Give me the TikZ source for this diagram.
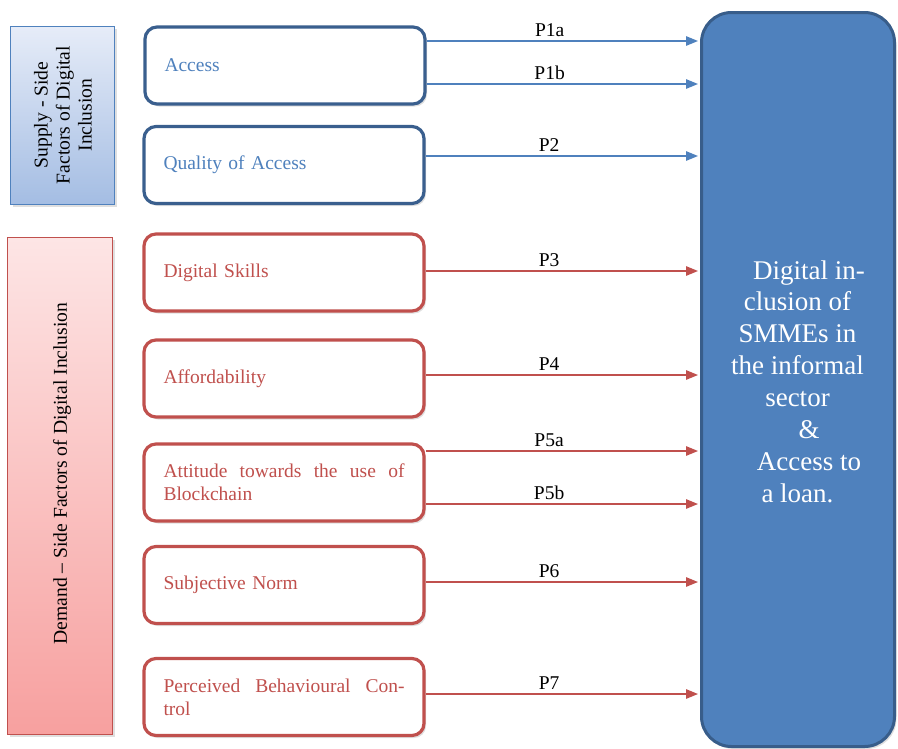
\documentclass[tikz,border=0pt]{standalone}
\usepackage{fontspec}
\setmainfont{Liberation Serif}
\usetikzlibrary{shadows,arrows.meta}
\definecolor{bluetext}{HTML}{4F81BD}
\definecolor{blueborder}{HTML}{3A5F8E}
\definecolor{redc}{HTML}{C0504D}
\definecolor{bigfill}{HTML}{4F81BD}
\definecolor{bigborder}{HTML}{385D8A}
\definecolor{suptop}{HTML}{E6ECF8}
\definecolor{supbot}{HTML}{A4BDE3}
\definecolor{demtop}{HTML}{FDE5E5}
\definecolor{dembot}{HTML}{F7A09F}
\begin{document}
\begin{tikzpicture}[x=1pt,y=-1pt,
  factor/.style={rectangle, rounded corners=12pt, line width=3.2pt, fill=white,
    minimum width=280pt, minimum height=77pt, text width=241pt, inner xsep=19.5pt,
    align=left, font=\fontsize{19.5}{23}\selectfont,
    drop shadow={opacity=0.25, shadow xshift=2pt, shadow yshift=-2.5pt}},
  supplyf/.style={factor, draw=blueborder, text=bluetext},
  demandf/.style={factor, draw=redc, text=redc},
  sidebox/.style={rectangle, line width=1.2pt, inner sep=0pt,
    drop shadow={opacity=0.25, shadow xshift=2.5pt, shadow yshift=-2.5pt}},
  sidetext/.style={rotate=90, align=center, inner sep=0pt, text=black,
    font=\fontsize{19.6}{22}\selectfont},
  barr/.style={draw=bluetext, line width=1.3pt, shorten >=2pt,
    -{Triangle[length=12pt,width=9.5pt]}},
  rarr/.style={draw=redc, line width=1.3pt, shorten >=2pt,
    -{Triangle[length=12pt,width=9.5pt]}},
  plabel/.style={above=4pt, pos=0.45, inner sep=0pt, text=black,
    font=\fontsize{19.5}{23}\selectfont}
]
\useasboundingbox (0,0) rectangle (898,748);

% side boxes
\node[sidebox, draw=bluetext, top color=suptop, bottom color=supbot,
  minimum width=103.5pt, minimum height=177.5pt] (supbox) at (62.5,115.5) {};
\node[sidetext] (suptext) at (63,115) {Supply - Side\\Factors of Digital\\Inclusion};
\node[sidebox, draw=redc, top color=demtop, bottom color=dembot,
  minimum width=104.5pt, minimum height=496.5pt] (dembox) at (60,486) {};
\node[sidetext] (demtext) at (62,473.5) {Demand – Side Factors of Digital Inclusion};

% outcome box
\node[rectangle, rounded corners=30pt, fill=bigfill, draw=bigborder, line width=3pt,
  minimum width=193pt, minimum height=734pt,
  drop shadow={opacity=0.25, shadow xshift=2pt, shadow yshift=-2.5pt}] (big) at (798,379.5) {};
\node[text=white, align=center, inner sep=0pt, font=\fontsize{27}{31.9}\selectfont]
  (bigtext) at (797.5,381.5)
  {\hspace*{23pt}Digital in-\\clusion of\\SMMEs in\\the informal\\sector\\\hspace*{23pt}\&\\\hspace*{23pt}Access to\\a loan.};

% factor boxes
\node[supplyf] (access) at (285,65.5) {Access};
\node[supplyf] (quality) at (284,165) {Quality of Access};
\node[demandf] (skills) at (284,272.5) {Digital Skills};
\node[demandf] (afford) at (284,378.5) {Affordability};
\node[demandf, align=justify] (attitude) at (284,482.5) {Attitude towards the use of\linebreak Blockchain};
\node[demandf] (subjective) at (284,585) {Subjective Norm};
\node[demandf, align=justify] (perceived) at (284,697) {Perceived Behavioural Con-\linebreak trol};

% connector start points
\coordinate (s1a) at ([yshift=24.5pt]access.east);
\coordinate (s1b) at ([yshift=-18.5pt]access.east);
\coordinate (s2) at ([yshift=9pt]quality.east);
\coordinate (s3) at ([yshift=1.5pt]skills.east);
\coordinate (s4) at ([yshift=3.5pt]afford.east);
\coordinate (s5a) at ([yshift=31.5pt]attitude.east);
\coordinate (s5b) at ([yshift=-21.5pt]attitude.east);
\coordinate (s6) at ([yshift=3pt]subjective.east);
\coordinate (s7) at ([yshift=3pt]perceived.east);

\draw[barr] (s1a) -- (s1a -| big.west) node[plabel] {P1a};
\draw[barr] (s1b) -- (s1b -| big.west) node[plabel] {P1b};
\draw[barr] (s2) -- (s2 -| big.west) node[plabel] {P2};
\draw[rarr] (s3) -- (s3 -| big.west) node[plabel] {P3};
\draw[rarr] (s4) -- (s4 -| big.west) node[plabel] {P4};
\draw[rarr] (s5a) -- (s5a -| big.west) node[plabel] {P5a};
\draw[rarr] (s5b) -- (s5b -| big.west) node[plabel] {P5b};
\draw[rarr] (s6) -- (s6 -| big.west) node[plabel] {P6};
\draw[rarr] (s7) -- (s7 -| big.west) node[plabel] {P7};
\end{tikzpicture}
\end{document}
